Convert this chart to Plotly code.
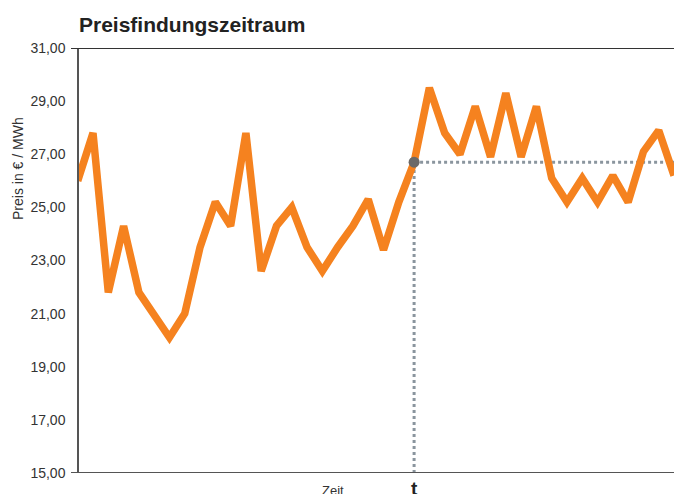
import plotly.graph_objects as go

# Data
x_index = list(range(40))
prices = [26.0, 27.8, 21.8, 24.3, 21.8, 21.0, 20.1, 21.0, 23.5, 25.2,
          24.3, 27.8, 22.6, 24.3, 25.0, 23.5, 22.6, 23.5, 24.3, 25.3,
          23.4, 25.2, 26.7, 29.5, 27.8, 27.0, 28.8, 26.9, 29.3, 26.9,
          28.8, 26.1, 25.2, 26.1, 25.2, 26.2, 25.2, 27.1, 27.9, 26.2]
t_index = 22
y_ticks = [15, 17, 19, 21, 23, 25, 27, 29, 31]
y_ticktext = ["15,00", "17,00", "19,00", "21,00", "23,00", "25,00", "27,00", "29,00", "31,00"]

orange = "#f5821f"
grey_dot = "#8a959e"
font_fam = "Liberation Sans, Arial, sans-serif"

fig = go.Figure()

# dotted reference lines
fig.add_trace(go.Scatter(x=[t_index, x_index[-1] + 0.5], y=[prices[t_index], prices[t_index]],
                         mode="lines", line=dict(color=grey_dot, width=3, dash="dot"),
                         hoverinfo="skip", showlegend=False))
fig.add_trace(go.Scatter(x=[t_index, t_index], y=[15, prices[t_index]],
                         mode="lines", line=dict(color=grey_dot, width=3, dash="dot"),
                         hoverinfo="skip", showlegend=False))

fig.add_trace(go.Scatter(x=x_index, y=prices, mode="lines",
                         line=dict(color=orange, width=7.5, shape="linear"),
                         showlegend=False))

fig.add_trace(go.Scatter(x=[t_index], y=[prices[t_index]], mode="markers",
                         marker=dict(color="#6b6968", size=11),
                         showlegend=False, cliponaxis=False))

fig.update_layout(
    width=674, height=494,
    margin=dict(l=79, r=0, t=48, b=21),
    paper_bgcolor="white", plot_bgcolor="white",
    font=dict(family=font_fam, color="#222"),
    title=dict(text="<b>Preisfindungszeitraum</b>", x=79/674, xanchor="left",
               y=1 - 25/494, yanchor="middle",
               font=dict(size=21, color="#222", family=font_fam)),
    xaxis=dict(range=[0.083, 39], showgrid=False, zeroline=False,
               showticklabels=False, ticks="", showline=False, fixedrange=True),
    yaxis=dict(range=[15, 31], tickvals=y_ticks, ticktext=y_ticktext,
               showgrid=False, zeroline=False, showline=True, linecolor="#555",
               linewidth=1.5, ticks="outside", ticklen=9, tickcolor="rgba(0,0,0,0)",
               tickfont=dict(size=14, color="#333", family=font_fam)),
    shapes=[
        dict(type="line", xref="paper", yref="y", x0=-8/595, x1=1, y0=31, y1=31,
             line=dict(color="#333", width=2)),
        dict(type="line", xref="paper", yref="y", x0=-8/595, x1=1, y0=15, y1=15,
             line=dict(color="#555", width=2)),
    ],
    annotations=[
        dict(text="Preis in € / MWh", xref="paper", yref="paper",
             x=-61/595, y=(473 - 169) / 425, textangle=-90, showarrow=False,
             xanchor="center", yanchor="middle",
             font=dict(size=14, color="#333", family=font_fam)),
        dict(text="Zeit", xref="paper", yref="paper", x=(333 - 79) / 595,
             y=-(490 - 473) / 425, showarrow=False, xanchor="center", yanchor="middle",
             font=dict(size=13, color="#333", family=font_fam)),
        dict(text="<b>t</b>", xref="x", yref="paper", x=t_index,
             y=-(488 - 473) / 425, showarrow=False, xanchor="center", yanchor="middle",
             font=dict(size=19, color="#222", family=font_fam)),
    ],
)

fig.write_html("out.html", config={"displayModeBar": False},
               post_script="document.body.style.margin='0';document.body.style.overflow='hidden';")
